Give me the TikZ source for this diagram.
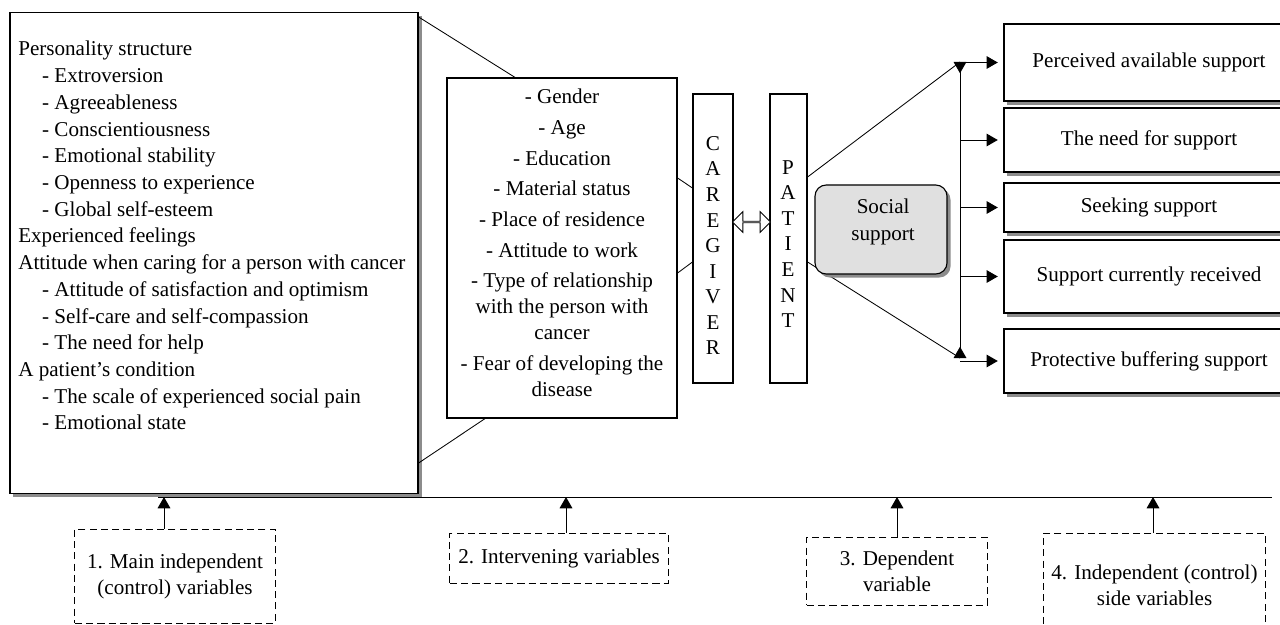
\documentclass[tikz,border=0pt]{standalone}
\usepackage{fontspec}
\setmainfont{Liberation Serif}
\usetikzlibrary{arrows.meta,shadows,shapes.arrows}

\tikzset{
  box/.style={draw, line width=0.8pt, fill=white, inner sep=0pt},
  shadowbox/.style={box, drop shadow={shadow xshift=2.5pt, shadow yshift=-2.5pt, fill=black!45, opacity=1}},
  supportbox/.style={shadowbox, minimum width=7.25cm, font=\fontsize{15}{18}\selectfont},
  varbox/.style={draw, dash pattern=on 5pt off 3pt, line width=0.7pt, align=center,
    inner sep=0pt, font=\fontsize{15}{18.4}\selectfont},
  listtext/.style={inner sep=0pt, font=\fontsize{15}{19}\selectfont},
  link/.style={line width=0.6pt},
  pointer/.style={line width=0.7pt, -{Triangle[length=8pt,width=9pt]}},
}

\begin{document}
\begin{tikzpicture}[x=0.025cm, y=-0.025cm]
    \useasboundingbox (0,0) rectangle (1280,624);

    % Main independent variables
    \node[shadowbox, minimum width=10.2cm, minimum height=12cm] (indep) at (214,253) {};
    \node[listtext, anchor=north west, align=left] (indeptext) at (18,41) {Personality structure\\
      \hspace*{17pt}- Extroversion\\
      \hspace*{17pt}- Agreeableness\\
      \hspace*{17pt}- Conscientiousness\\
      \hspace*{17pt}- Emotional stability\\
      \hspace*{17pt}- Openness to experience\\
      \hspace*{17pt}- Global self-esteem\\
      Experienced feelings\\
      Attitude when caring for a person with cancer\\
      \hspace*{17pt}- Attitude of satisfaction and optimism\\
      \hspace*{17pt}- Self-care and self-compassion\\
      \hspace*{17pt}- The need for help\\
      A patient’s condition\\
      \hspace*{17pt}- The scale of experienced social pain\\
      \hspace*{17pt}- Emotional state};

    % Intervening variables
    \node[box, minimum width=5.75cm, minimum height=8.5cm] (interv) at (562,248) {};
    \node[listtext, anchor=north, align=center, font=\fontsize{15}{18.4}\selectfont] (intervtext) at (562,89)
      {- Gender\\[3.4pt] - Age\\[3.4pt] - Education\\[3.4pt] - Material status\\[3.4pt]
       - Place of residence\\[3.4pt] - Attitude to work\\[3.4pt]
       - Type of relationship\\ with the person with\\ cancer\\[3.4pt]
       - Fear of developing the\\ disease};

    % Caregiver and patient
    \node[box, minimum width=1cm, minimum height=7.225cm] (care) at (713,238.5) {};
    \node[listtext, anchor=north, align=center, font=\fontsize{15}{18.2}\selectfont] (caretext) at (713,136)
      {C\\A\\R\\E\\G\\I\\V\\E\\R};
    \node[box, minimum width=0.925cm, minimum height=7.225cm] (pat) at (788.5,238.5) {};
    \node[listtext, anchor=north, align=center, font=\fontsize{15}{18.2}\selectfont] (pattext) at (788,160)
      {P\\A\\T\\I\\E\\N\\T};
    \node[double arrow, draw, line width=0.6pt, fill=white, inner sep=0pt, minimum height=0.95cm,
      minimum width=0.52cm, double arrow head extend=0.15cm] (swaparrow) at (751.5,222) {};

    % Forms of support
    \node[supportbox, minimum height=1.925cm] (s1) at (1149,62.5) {Perceived available support};
    \node[supportbox, minimum height=1.6cm] (s2) at (1149,140) {The need for support};
    \node[supportbox, minimum height=1.225cm] (s3) at (1149,207.5) {Seeking support};
    \node[supportbox, minimum height=1.825cm] (s4) at (1149,276.5) {Support currently received};
    \node[supportbox, minimum height=1.6cm] (s5) at (1149,361) {Protective buffering support};

    % Connecting lines
    \draw[link] (indep.east |- 0,17) -- (interv.north -| 515,0);
    \draw[link] (indep.east |- 0,463) -- (interv.south -| 485,0);
    \draw[link] (interv.east |- 0,178) -- (care.west |- 0,188);
    \draw[link] (interv.east |- 0,273) -- (care.west |- 0,262);

    \coordinate (vtop) at (960,62);
    \coordinate (vbot) at (960,358);
    \draw[link] (pat.east |- 0,177) -- (vtop);
    \draw[link] (pat.east |- 0,262) -- (vbot);
    \draw[link, {Triangle[reversed,length=8pt,width=9pt]}-{Triangle[reversed,length=8pt,width=9pt]}] (vtop) -- (vbot);
    \foreach \s in {s1,s2,s3,s4,s5}
        \draw[pointer, shorten >=4pt] (\s.west -| vtop) -- (\s.west);

    % Dependent variable
    \node[shadowbox, fill=black!12, rounded corners=8pt, minimum width=3.3cm, minimum height=2.225cm,
      align=center, font=\fontsize{15}{19}\selectfont] (social) at (881,229.5)
      {\hspace*{3pt}Social\\\hspace*{3pt}support\rule[-14pt]{0pt}{0pt}};

    % Variable types
    \coordinate (rule0) at (158,497);
    \coordinate (rule1) at (1272,497);
    \draw[link] (rule0) -- (rule1);
    \node[varbox, minimum width=5cm, minimum height=2.35cm] (b1) at (175,576) {1. Main independent\\(control) variables};
    \node[varbox, minimum width=5.45cm, minimum height=1.25cm] (b2) at (559,558) {2. Intervening variables};
    \node[varbox, minimum width=4.5cm, minimum height=1.7cm] (b3) at (897,571) {3. Dependent\\variable};
    \node[varbox, minimum width=5.525cm, minimum height=2.6cm] (b4) at (1154.5,585) {4. Independent (control)\\side variables};
    \coordinate (t1) at (164,497);
    \coordinate (t2) at (566,497);
    \coordinate (t3) at (897,497);
    \coordinate (t4) at (1153,497);
    \foreach \b/\t in {b1/t1,b2/t2,b3/t3,b4/t4}
        \draw[pointer] (\b.north -| \t) -- (\t);
\end{tikzpicture}
\end{document}
